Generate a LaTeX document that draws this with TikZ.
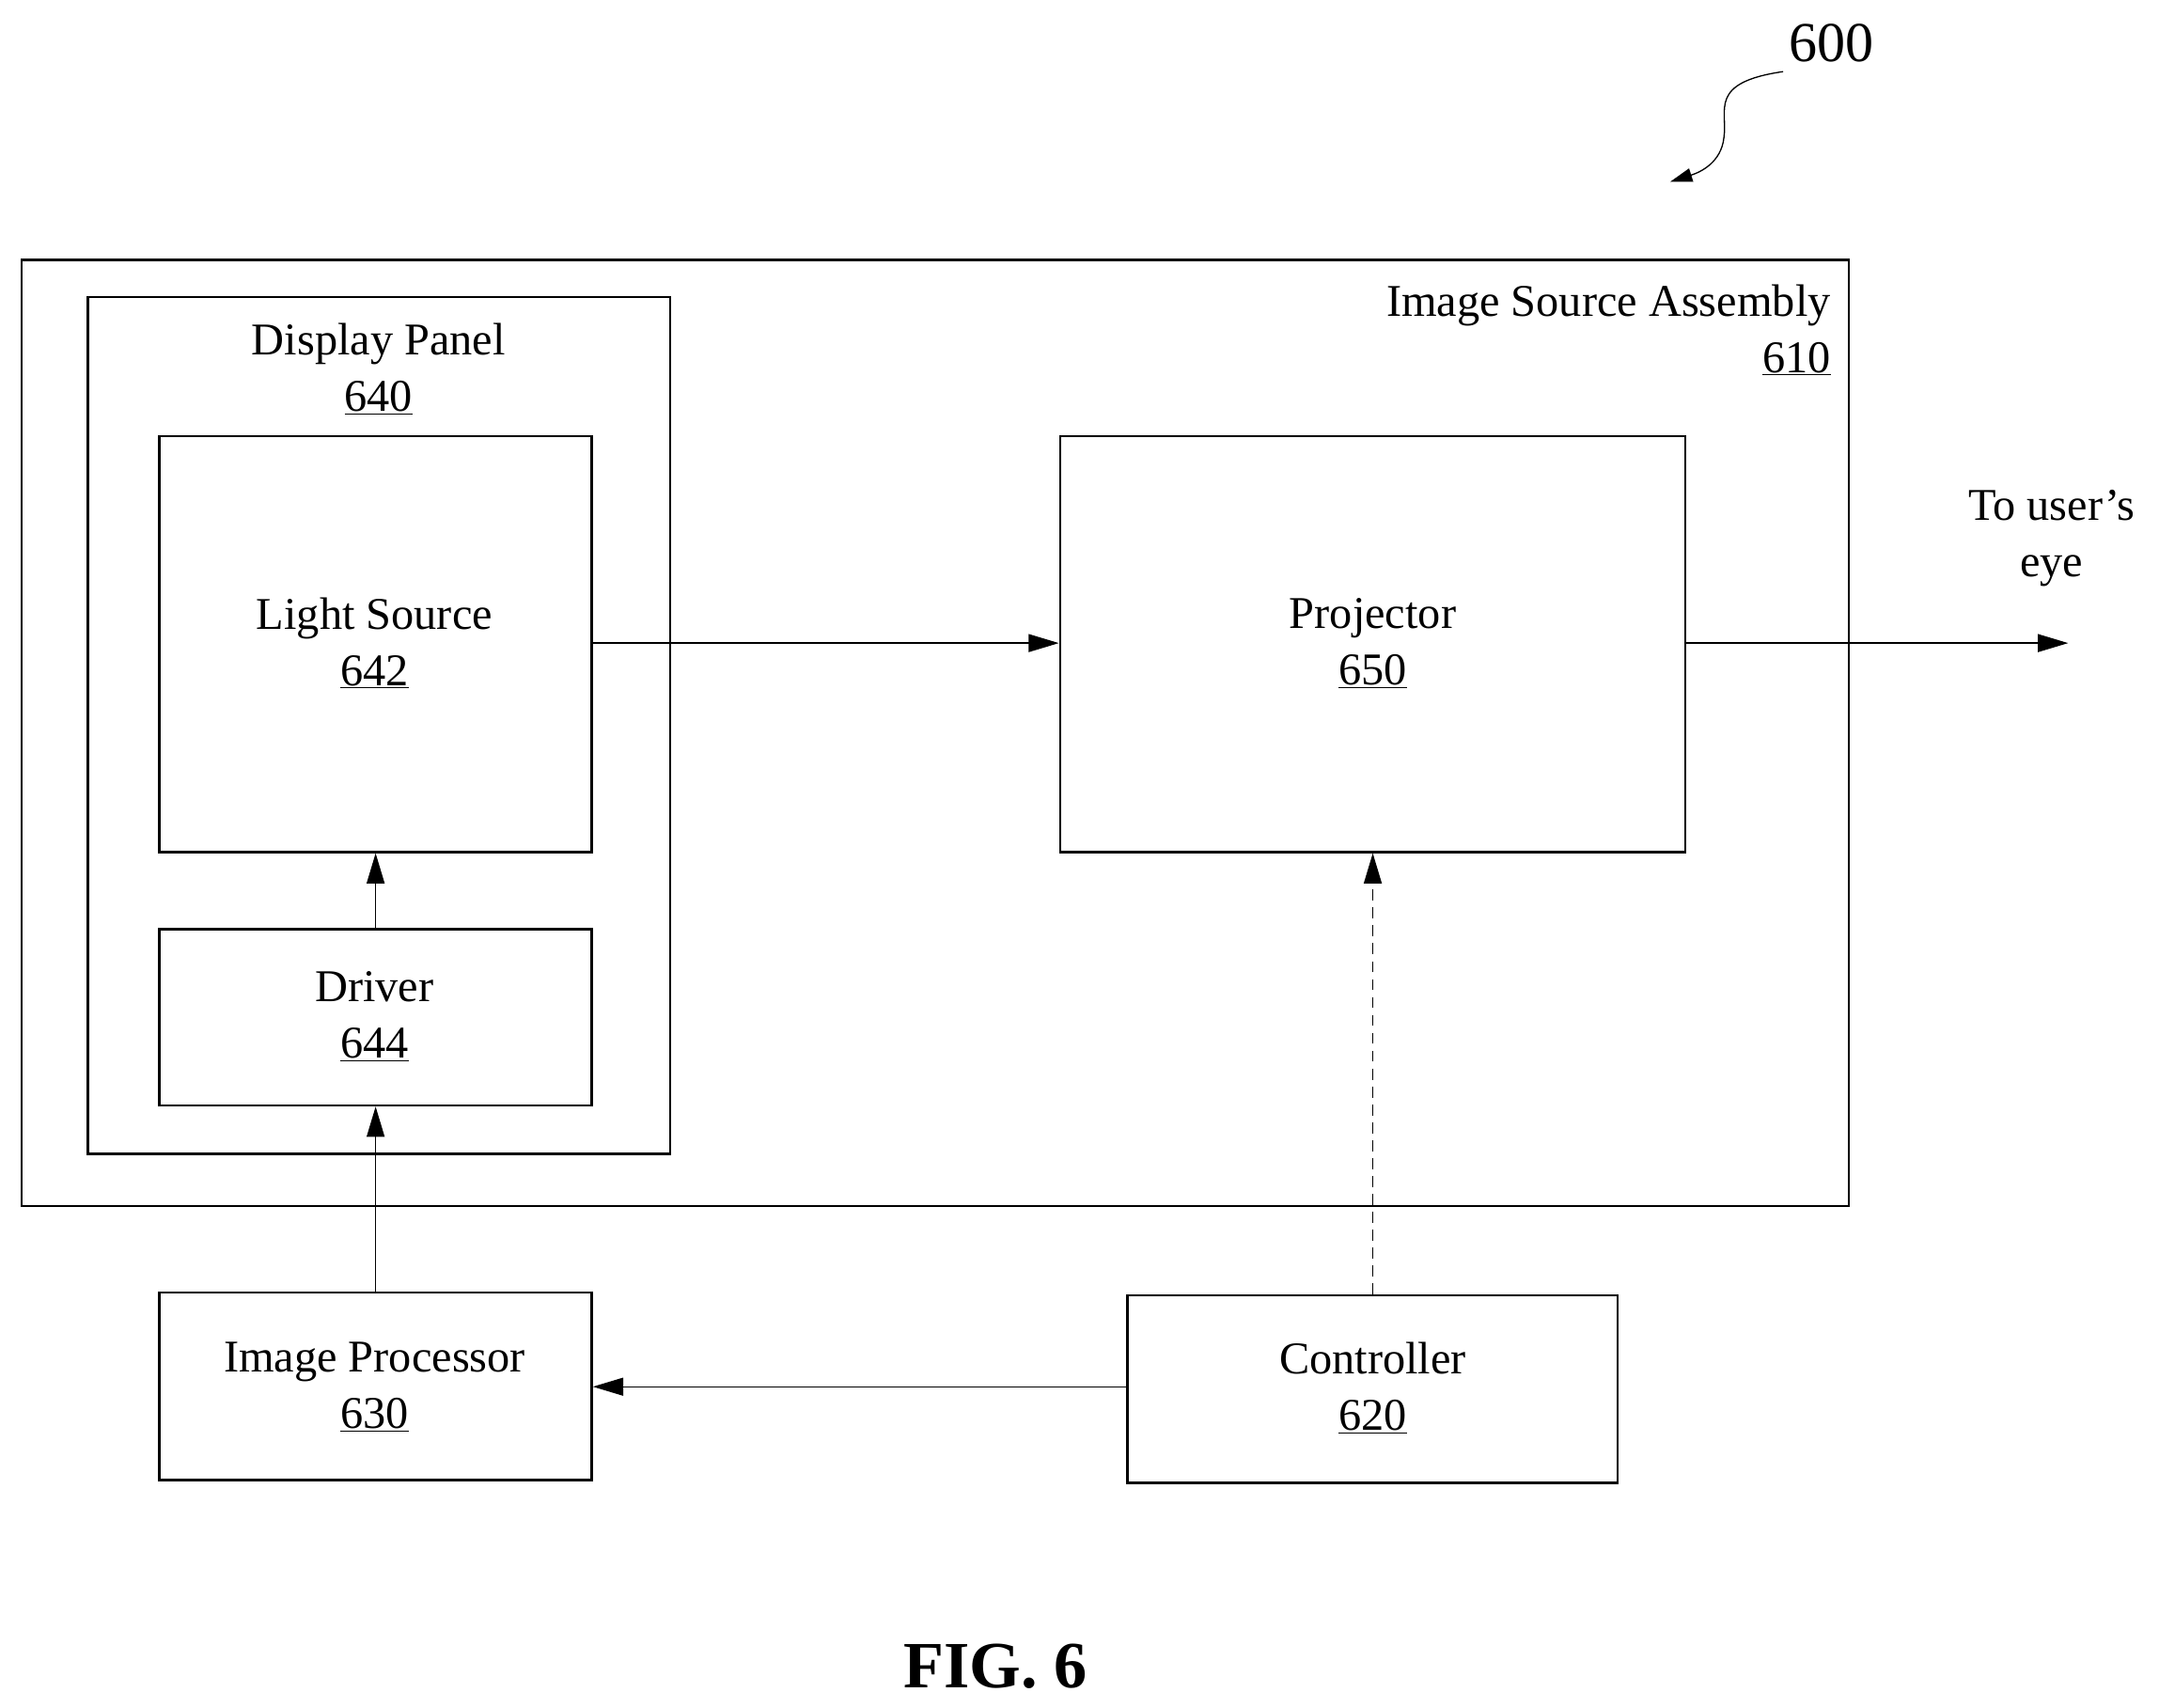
\documentclass[tikz,border=0pt]{standalone}
\usepackage{fontspec}
\setmainfont{Liberation Serif}
\usetikzlibrary{arrows.meta}
\begin{document}
\begin{tikzpicture}[x=1pt,y=-1pt,
  box/.style={draw,line width=1.6pt,anchor=north west,inner sep=0pt},
  lbl/.style={font=\fontsize{33}{41}\selectfont,align=center},
  arr/.style={line width=0.9pt,-{Triangle[length=22,width=13]}}]
\useasboundingbox (0,0) rectangle (1568,1240);
\node[box,minimum width=1327,minimum height=687] (isa) at (15,188) {};
\node[box,minimum width=423,minimum height=622] (dp) at (63,215) {};
\node[box,minimum width=314,minimum height=302] (ls) at (115,316) {};
\node[box,minimum width=314,minimum height=128] (dr) at (115,674) {};
\node[box,minimum width=454,minimum height=302] (pr) at (769,316) {};
\node[box,minimum width=314,minimum height=136] (ip) at (115,938) {};
\node[box,minimum width=356,minimum height=136] (ct) at (818,940) {};
\node[lbl,align=right,anchor=north east] (isat) at (1333,203) {Image Source Assembly\\\underline{610}};
\node[lbl] (dpt) at (275,268) {Display Panel\\\underline{640}};
\node[lbl] (lst) at (272,467) {Light Source\\\underline{642}};
\node[lbl] (prt) at (997,467) {Projector\\\underline{650}};
\node[lbl] (drt) at (272,738) {Driver\\\underline{644}};
\node[lbl] (ipt) at (272,1007) {Image Processor\\\underline{630}};
\node[lbl] (ctt) at (997,1008) {Controller\\\underline{620}};
\node[lbl] (eye) at (1490,391) {To user's\\eye};
\coordinate (out) at (1502,467);
\node[lbl,font=\fontsize{41}{48}\selectfont] (n600) at (1330,31) {600};
\coordinate (sq) at (1213,132);
\node[font=\fontsize{48}{54}\selectfont\bfseries] (fig) at (723,1210) {FIG. 6};
\draw[arr] (ls.east|-0,467) -- (pr.west|-0,467);
\draw[arr] (pr.east|-0,467) -- (out);
\draw[arr] (dr.north) -- (ls.south);
\draw[arr] (ip.north) -- (dr.south);
\draw[arr,dashed,dash pattern=on 8pt off 5pt] (ct.north-|997,0) -- (pr.south-|997,0);
\draw[arr] (ct.west|-0,1007) -- (ip.east|-0,1007);
\draw[line width=0.9pt,-{Triangle[length=16,width=10]}] (1295,52) .. controls (1240,60) and (1255,80) .. (1252,100) .. controls (1250,118) and (1235,125) .. (sq);
\end{tikzpicture}
\end{document}
